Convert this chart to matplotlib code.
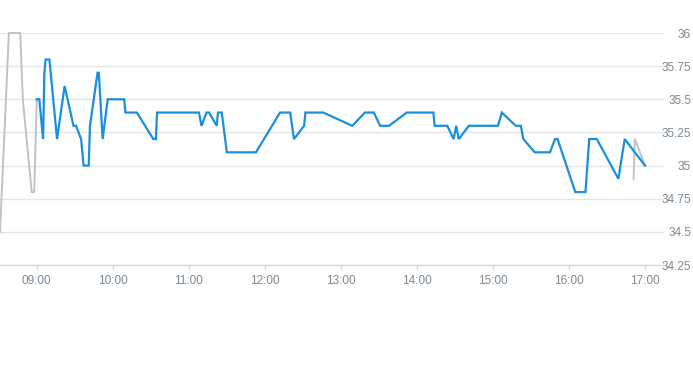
import matplotlib
matplotlib.use("Agg")
import matplotlib.pyplot as plt
from matplotlib.ticker import FuncFormatter

# ---- data ----
pre_times = ["08:31", "08:38", "08:47", "08:49", "08:56", "08:58", "09:00"]
pre_values = [34.5, 36.0, 36.0, 35.5, 34.8, 34.8, 35.5]

main_times = ["09:00", "09:02", "09:05", "09:06", "09:07", "09:10", "09:16", "09:22",
              "09:29", "09:31", "09:35", "09:37", "09:41", "09:42", "09:48", "09:49",
              "09:52", "09:56", "10:09", "10:10", "10:19", "10:32", "10:34", "10:35",
              "11:08", "11:10", "11:14", "11:16", "11:22", "11:23", "11:26", "11:30",
              "11:53", "12:12", "12:20", "12:23", "12:31", "12:32", "12:46", "13:09",
              "13:19", "13:26", "13:31", "13:38", "13:52", "14:13", "14:14", "14:24",
              "14:29", "14:31", "14:33", "14:41", "15:04", "15:07", "15:18", "15:22",
              "15:24", "15:33", "15:45", "15:49", "15:51", "16:05", "16:13", "16:16",
              "16:22", "16:39", "16:44", "17:00"]
main_values = [35.5, 35.5, 35.2, 35.7, 35.8, 35.8, 35.2, 35.6,
               35.3, 35.3, 35.2, 35.0, 35.0, 35.3, 35.7, 35.7,
               35.2, 35.5, 35.5, 35.4, 35.4, 35.2, 35.2, 35.4,
               35.4, 35.3, 35.4, 35.4, 35.3, 35.4, 35.4, 35.1,
               35.1, 35.4, 35.4, 35.2, 35.3, 35.4, 35.4, 35.3,
               35.4, 35.4, 35.3, 35.3, 35.4, 35.4, 35.3, 35.3,
               35.2, 35.3, 35.2, 35.3, 35.3, 35.4, 35.3, 35.3,
               35.2, 35.1, 35.1, 35.2, 35.2, 34.8, 34.8, 35.2,
               35.2, 34.9, 35.2, 35.0]

post_times = ["16:51", "16:52", "17:00"]
post_values = [34.9, 35.2, 35.0]

x_tick_labels = ["09:00", "10:00", "11:00", "12:00", "13:00", "14:00", "15:00", "16:00", "17:00"]
y_ticks = [34.25, 34.5, 34.75, 35.0, 35.25, 35.5, 35.75, 36.0]


def to_min(s):
    h, m = s.split(":")
    return int(h) * 60 + int(m)


pre_x = [to_min(t) for t in pre_times]
main_x = [to_min(t) for t in main_times]
post_x = [to_min(t) for t in post_times]
x_ticks = [to_min(t) for t in x_tick_labels]

# ---- style ----
plt.rcParams['font.family'] = ['Liberation Sans', 'DejaVu Sans']
label_color = "#7a8896"
axis_color = "#ccd6eb"
grid_color = "#e6e6e6"
blue = "#1a8fdd"
gray = "#b9c4cc"

fig = plt.figure(figsize=(6.93, 3.65), dpi=100)
ax = fig.add_axes([0.0, 1 - 265 / 365, 664 / 693, (265 - 33) / 365])

ax.plot(pre_x, pre_values, color=gray, lw=1.4, clip_on=False, zorder=2)
ax.plot(post_x, post_values, color=gray, lw=1.4, clip_on=False, zorder=2)
ax.plot(main_x, main_values, color=blue, lw=1.6, clip_on=False, zorder=3,
        solid_joinstyle='miter')

ax.set_xlim(511, 1035)
ax.set_ylim(34.25, 36.0)

ax.set_xticks(x_ticks)
ax.set_xticklabels(x_tick_labels)
ax.set_yticks(y_ticks)
ax.yaxis.set_major_formatter(FuncFormatter(lambda v, p: f"{v:g}"))
ax.yaxis.tick_right()

ax.grid(axis='y', color=grid_color, lw=1.0)
ax.grid(axis='x', visible=False)
ax.set_axisbelow(True)

for s in ["top", "left", "right"]:
    ax.spines[s].set_visible(False)
ax.spines["bottom"].set_color(axis_color)
ax.spines["bottom"].set_linewidth(1.0)

ax.tick_params(axis='x', length=3, width=1, color=axis_color, labelcolor=label_color,
               labelsize=8.5, pad=4.3)
ax.tick_params(axis='y', length=0, labelcolor=label_color, labelsize=8.5, pad=19.5)
for lab in ax.get_yticklabels():
    lab.set_horizontalalignment('right')

fig.savefig("out.png", dpi=100)
